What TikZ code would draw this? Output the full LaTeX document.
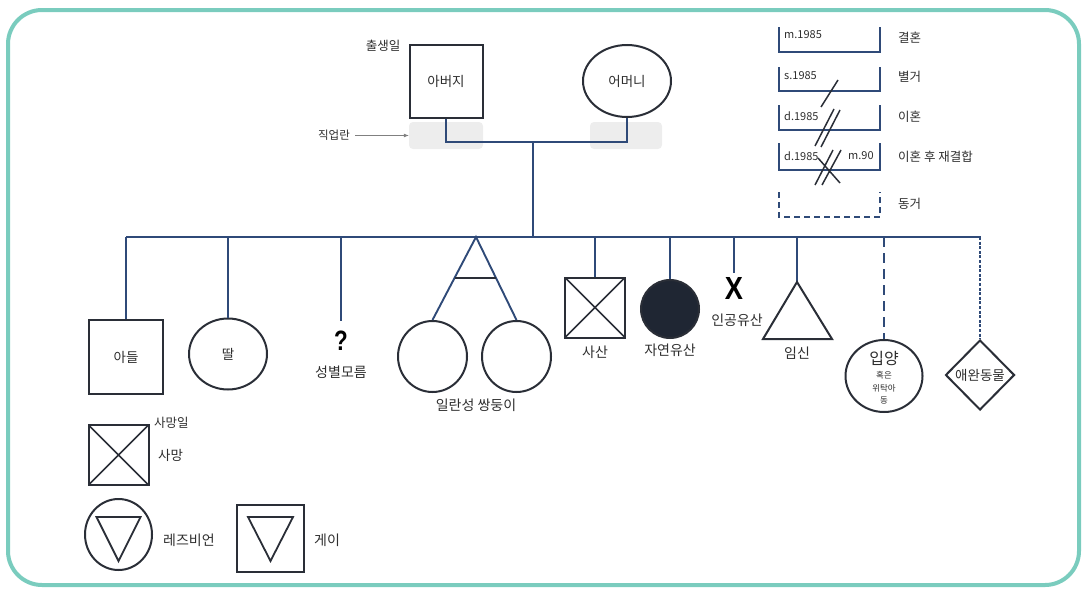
\documentclass[tikz,border=0pt]{standalone}
\usepackage{fontspec}
\setmainfont{Noto Sans CJK KR}
\newfontfamily\latfont{Liberation Sans}
\usetikzlibrary{shapes.geometric}
\usetikzlibrary{calc}
\usetikzlibrary{arrows.meta}
\definecolor{frameteal}{HTML}{7ACCBE}
\definecolor{lineblue}{HTML}{2F4A78}
\definecolor{shapeline}{HTML}{2A2E37}
\definecolor{labelgray}{HTML}{2E2E2E}
\definecolor{jobgray}{HTML}{EDEDED}
\definecolor{lostdark}{HTML}{1F2633}

\begin{document}
\begin{tikzpicture}[x=1pt,y=-1pt,
  link/.style={draw=lineblue,line width=1.9pt},
  shp/.style={draw=shapeline,line width=2pt},
  male/.style={shp,rectangle,inner sep=0pt,minimum size=#1,font=\fontsize{13.5}{15}\selectfont,text=labelgray},
  female/.style={shp,ellipse,inner sep=0pt,font=\fontsize{13.5}{15}\selectfont,text=labelgray},
  dead/.style={male=#1,path picture={\draw[shapeline,line width=1.6pt]
    (path picture bounding box.north west) -- (path picture bounding box.south east)
    (path picture bounding box.north east) -- (path picture bounding box.south west);}},
  lbl/.style={font=\fontsize{14}{16}\selectfont,text=labelgray,inner sep=1pt},
  small/.style={font=\fontsize{12.5}{15}\selectfont,text=labelgray,inner sep=1pt},
  yr/.style={font=\fontsize{11}{13}\selectfont,text=labelgray,inner sep=0pt,anchor=west},
  bracket/.style={draw=lineblue,line width=1.7pt}]
\useasboundingbox (0,0) rectangle (1083,589);
\draw[frameteal,line width=4pt,rounded corners=34pt] (8,10) rectangle (1079,585);

% parents
\node[fill=jobgray,rounded corners=4pt,minimum width=74,minimum height=27,inner sep=0pt] (job1) at (446,135.5) {};
\node[fill=jobgray,rounded corners=4pt,minimum width=72,minimum height=27,inner sep=0pt] (job2) at (626,135.5) {};
\node[male=73] (father) at (446,81) {아버지};
\node[female,minimum width=88,minimum height=72] (mother) at (627,81) {어머니};
\node[small] (birth) at (383,46) {출생일};
\node[small,font=\fontsize{11.5}{13}\selectfont] (job) at (334,135.5) {직업란};
\draw[gray,line width=0.7pt,-{Latex[length=5pt,width=4pt]}] ($(job.east)+(4,0)$) -- (job1.west);

\coordinate (mline) at (533,142);
\coordinate (sib) at (126,237);
\coordinate (sibend) at (981,237);
\draw[link] (father.south) |- (mother.south |- mline) -- (mother.south);
\draw[link] (mline) -- (mline |- sib);
\draw[link] (sib) -- (sibend);

% children
\node[male=74] (son) at (126,357) {아들};
\draw[link] (son.north |- sib) -- (son.north);

\node[female,minimum width=78,minimum height=71] (daughter) at (228,354) {딸};
\draw[link] (daughter.north |- sib) -- (daughter.north);

\coordinate (unkend) at (341,321);
\node[font=\latfont\bfseries\fontsize{28}{28}\selectfont,text=black] (unk) at (341,341) {\scalebox{0.8}[1]{?}};
\node[lbl] (unktxt) at (341,372) {성별모름};
\draw[link] (unkend |- sib) -- (unkend);

\coordinate (twins) at (476,237);
\node[female,minimum width=69,minimum height=71] (twinL) at (432.5,356.5) {};
\node[female,minimum width=69,minimum height=71] (twinR) at (516.5,356.5) {};
\draw[link] (twinL.north) -- (twins) -- (twinR.north);
\draw[shp,line width=1.7pt] ($(twins)!0.49!(twinL.north)$) -- ($(twins)!0.49!(twinR.north)$);
\node[lbl] (twintxt) at (476,405) {일란성 쌍둥이};

\node[dead=60] (still) at (595,307.5) {};
\draw[link] (still.north |- sib) -- (still.north);
\node[lbl] (stilltxt) at (595,352) {사산};

\node[shp,circle,fill=lostdark,minimum size=58,inner sep=0pt] (miss) at (670,309) {};
\draw[link] (miss.north |- sib) -- (miss.north);
\node[lbl] (misstxt) at (670,350) {자연유산};

\node[font=\latfont\bfseries\fontsize{32}{32}\selectfont,text=black] (abort) at (734,288) {\scalebox{0.85}[1]{X}};
\draw[link] (abort.north |- sib) -- (abort.north);
\node[lbl] (aborttxt) at (737,320) {인공유산};

\coordinate (preg) at (797,282);
\draw[link] (preg |- sib) -- (preg);
\draw[shp,line join=miter] (preg) -- ++(35,57) -- ++(-69,0) -- cycle;
\node[lbl] (pregtxt) at (797,353) {임신};

\node[female,minimum width=77,minimum height=72] (adopt) at (884,376) {};
\draw[link,dash pattern=on 10pt off 6pt] (adopt.north |- sib) -- (adopt.north);
\node[text=labelgray,font=\fontsize{16}{18}\selectfont,inner sep=0pt] (adopttxt) at (884,358) {입양};
\node[text=labelgray,font=\fontsize{8.5}{12.5}\selectfont,align=center,inner sep=0pt] (fostertxt) at (884,388) {혹은\\위탁아\\동};

\node[shp,diamond,minimum width=69,minimum height=70,inner sep=0pt] (pet) at (980,375) {};
\draw[link,line width=1.5pt,dash pattern=on 3pt off 1.6pt] (pet.north |- sib) -- (pet.north);
\node[lbl,font=\fontsize{13.5}{16}\selectfont] (pettxt) at (pet) {애완동물};

% death, lesbian, gay
\node[dead=60] (death) at (118.5,455) {};
\node[small,anchor=west] (deathday) at (153,423) {사망일};
\node[lbl,font=\fontsize{13.5}{16}\selectfont,anchor=west] (deathtxt) at (157,455) {사망};

\node[female,minimum width=67,minimum height=71] (lesb) at (118.5,534.5) {};
\draw[shp,line width=1.8pt] ($(lesb)+(-22,-17.5)$) -- ++(44,0) -- ($(lesb)+(0,26.5)$) -- cycle;
\node[lbl,anchor=west] (lesbtxt) at (162,540) {레즈비언};

\node[male=67] (gay) at (270.5,538.5) {};
\draw[shp,line width=1.8pt] ($(gay)+(-22.5,-21.5)$) -- ++(45,0) -- ($(gay)+(0,22.5)$) -- cycle;
\node[lbl,anchor=west] (gaytxt) at (313,540) {게이};

% couple lines
\draw[bracket] (779,27) |- (880,52) -- (880,27);
\node[yr] (m1) at (784,35) {m.1985};
\node[small,anchor=west] (r1) at (897,38) {결혼};

\draw[bracket] (779,67) |- (880,91) -- (880,67);
\node[yr] (s2) at (784,76) {s.1985};
\node[small,anchor=west] (r2) at (897,77) {별거};
\draw[shp,line width=1.5pt] (821,107) -- (838,80);

\draw[bracket] (779,105) |- (880,130) -- (880,105);
\node[yr] (d3) at (784,116) {d.1985};
\node[small,anchor=west] (r3) at (897,117) {이혼};
\draw[shp,line width=1.5pt] (815,146) -- (834,109) (821,147) -- (840,110);

\draw[bracket] (779,143) |- (880,170) -- (880,143);
\node[yr] (d4) at (784,156) {d.1985};
\node[yr] (m4) at (848,156) {m.90};
\node[small,anchor=west] (r4) at (897,157) {이혼 후 재결합};
\draw[shp,line width=1.5pt] (815,185) -- (833,150) (822,185) -- (841,150) (818,158) -- (840,183);

\draw[bracket,dash pattern=on 6pt off 4pt] (779,192) |- (880,217) -- (880,192);
\node[small,anchor=west] (r5) at (897,204) {동거};
\end{tikzpicture}
\end{document}
